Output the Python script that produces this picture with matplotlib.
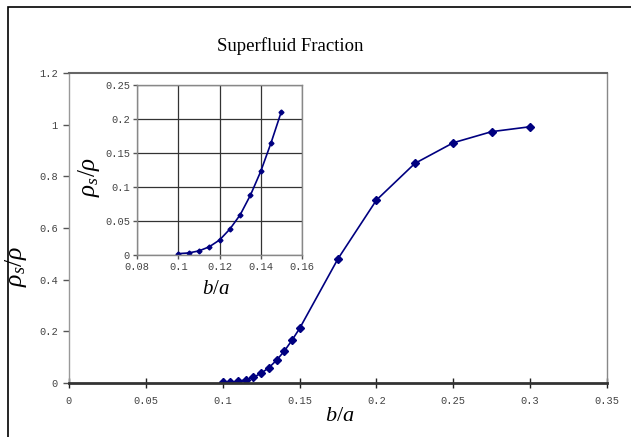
import matplotlib
matplotlib.use("Agg")
import matplotlib.pyplot as plt
from matplotlib.patches import Rectangle

plt.rcParams['mathtext.fontset'] = 'custom'
plt.rcParams['mathtext.rm'] = 'Liberation Serif'
plt.rcParams['mathtext.it'] = 'Liberation Serif:italic'
plt.rcParams['mathtext.bf'] = 'Liberation Serif:bold'

b_over_a = [0.1, 0.105, 0.11, 0.115, 0.12, 0.125, 0.13, 0.135, 0.14, 0.145, 0.15,
            0.175, 0.2, 0.225, 0.25, 0.275, 0.3]
rho_frac = [0.002, 0.003, 0.006, 0.012, 0.022, 0.038, 0.059, 0.088, 0.123, 0.165, 0.211,
            0.481, 0.708, 0.850, 0.930, 0.973, 0.992]
main_xticks = [0, 0.05, 0.1, 0.15, 0.2, 0.25, 0.3, 0.35]
main_yticks = [0, 0.2, 0.4, 0.6, 0.8, 1, 1.2]
inset_xticks = [0.08, 0.1, 0.12, 0.14, 0.16]
inset_yticks = [0, 0.05, 0.1, 0.15, 0.2, 0.25]

W, H = 631, 437
fig = plt.figure(figsize=(W / 100, H / 100), dpi=100)

def fr(l, t, r, b):
    return [l / W, 1 - b / H, (r - l) / W, (b - t) / H]

# outer frame
fig.patches.append(Rectangle((8 / W, -0.1), 1.2, 1 - 7 / H + 0.1, transform=fig.transFigure,
                             fill=False, edgecolor='black', linewidth=1.2))

tickfont = dict(family='Liberation Mono', size=7.5)
xlabel_font = dict(size=16)
ylabel_font = dict(size=18.5)
inset_xlabel_font = dict(size=15)
inset_ylabel_font = dict(size=18)

def fmt(v):
    return '%g' % v

ax = fig.add_axes(fr(69, 73, 607, 383))
ax.plot(b_over_a, rho_frac, color='#000080', lw=1.2, marker='D', ms=4.5, mfc='#000080', mec='#000080')
ax.set_xlim(0, 0.35)
ax.set_ylim(0, 1.2)
ax.set_xticks(main_xticks)
ax.set_xticklabels([fmt(v) for v in main_xticks], fontdict=tickfont, color='#444444')
ax.set_yticks(main_yticks)
ax.set_yticklabels([fmt(v) for v in main_yticks], fontdict=tickfont, color='#444444')
ax.tick_params(axis='x', direction='inout', length=7, width=1, color='#222222', pad=6)
ax.tick_params(axis='y', direction='out', length=4, width=1, color='#555555', pad=4)
ax.spines['top'].set_color('#666666'); ax.spines['top'].set_linewidth(1.5)
ax.spines['right'].set_color('#888888'); ax.spines['right'].set_linewidth(1.0)
ax.spines['bottom'].set_color('#333333'); ax.spines['bottom'].set_linewidth(2.0)
ax.spines['left'].set_color('#999999'); ax.spines['left'].set_linewidth(1.0)
ax.set_xlabel(r'$b/a$', fontdict=xlabel_font)
ax.xaxis.set_label_coords((340 - 69) / (607 - 69), -(405 - 383) / (383 - 73))
ax.set_ylabel(r'$\rho_s/\rho$', fontdict=ylabel_font)
ax.yaxis.set_label_coords(-(69 - 29) / (607 - 69), (383 - 266) / (383 - 73))

fig.text(290 / W, 1 - 46 / H, 'Superfluid Fraction', ha='center', va='center',
         family='Liberation Serif', size=13.5)

ins = fig.add_axes(fr(137, 85, 302, 255))
ins.set_facecolor('white')
ins.plot(b_over_a[:11], rho_frac[:11], color='#000080', lw=1.2, marker='D', ms=2.5,
         mfc='#000080', mec='#000080')
ins.set_xlim(0.08, 0.16)
ins.set_ylim(0, 0.25)
ins.set_xticks(inset_xticks)
ins.set_xticklabels([fmt(v) for v in inset_xticks], fontdict=tickfont, color='#444444')
ins.set_yticks(inset_yticks)
ins.set_yticklabels([fmt(v) for v in inset_yticks], fontdict=tickfont, color='#444444')
ins.grid(True, color='#333333', lw=0.9)
ins.set_axisbelow(True)
ins.tick_params(axis='both', direction='out', length=3, width=1, color='#555555', pad=2)
for s in ins.spines.values():
    s.set_color('#888888'); s.set_linewidth(1.0)
ins.set_xlabel(r'$b/a$', fontdict=inset_xlabel_font, labelpad=0)
ins.xaxis.set_label_coords(0.48, -(278 - 255) / 170)
ins.set_ylabel(r'$\rho_s/\rho$', fontdict=inset_ylabel_font)
ins.yaxis.set_label_coords(-(137 - 102) / 165, (255 - 177) / 170)

fig.savefig('out.png', dpi=100)
